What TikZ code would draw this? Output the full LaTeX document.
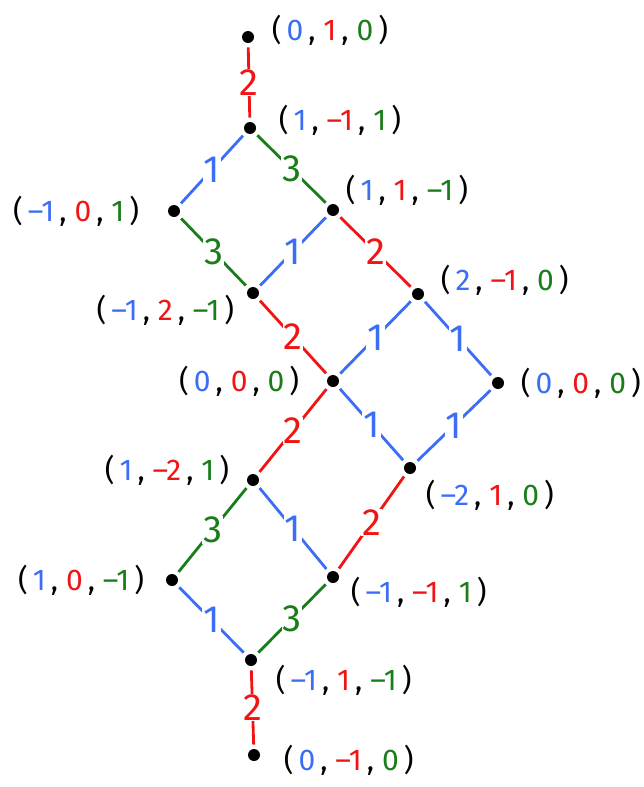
\documentclass[tikz,border=0pt]{standalone}
\usepackage{fontspec}
\setmainfont{Fira Sans}
\usetikzlibrary{positioning}
\definecolor{wtA}{RGB}{60,110,245}
\definecolor{wtB}{RGB}{240,20,20}
\definecolor{wtC}{RGB}{25,125,25}
\newcommand{\mn}{\textendash}
\newcommand{\wt}[3]{(\,\textcolor{wtA}{#1}\,,\ \textcolor{wtB}{#2}\,,\ \textcolor{wtC}{#3}\,)}

\begin{document}
\begin{tikzpicture}[
        x=0.5pt, y=-0.5pt,
        dot/.style={
            circle,
            fill=black,
            inner sep=0pt,
            minimum size=6pt
        },
        wt/.style={
            font=\fontsize{15}{18}\selectfont,
            inner sep=0pt
        },
        edge/.style={
            line width=1.4pt,
            shorten <=2pt,
            shorten >=2pt
        },
        e1/.style={edge, draw=wtA},
        e2/.style={edge, draw=wtB},
        e3/.style={edge, draw=wtC},
        lab/.style={
            font=\fontsize{19}{22}\selectfont,
            fill=white,
            inner sep=0.5pt
        }
    ]
        \useasboundingbox (0,0) rectangle (643,787);

        % weights
        \node[dot] (top)  at (248,37) {};
        \node[dot] (b)    at (250,128) {};
        \node[dot] (c)    at (174,211) {};
        \node[dot] (d)    at (333,210) {};
        \node[dot] (e)    at (253,293) {};
        \node[dot] (f)    at (418,294) {};
        \node[dot] (zero) at (333,381) {};
        \node[dot] (h)    at (498,383) {};
        \node[dot] (i)    at (253,480) {};
        \node[dot] (j)    at (410,468) {};
        \node[dot] (k)    at (172,580) {};
        \node[dot] (l)    at (333,577) {};
        \node[dot] (m)    at (251,660) {};
        \node[dot] (bot)  at (254,755) {};

        % labels
        \node[wt, right=8.5pt of top, yshift=3.5pt] (ltop) {\wt{0}{1}{0}};
        \node[wt, right=11pt of b, yshift=4pt] (lb) {\wt{1}{\mn1}{1}};
        \node[wt, left=14pt of c] (lc) {\wt{\mn1}{0}{1}};
        \node[wt, right=3pt of d, yshift=10pt] (ld) {\wt{1}{1}{\mn1}};
        \node[wt, left=6pt of e, yshift=-8.5pt] (le) {\wt{\mn1}{2}{\mn1}};
        \node[wt, right=8pt of f, yshift=7pt] (lf) {\wt{2}{\mn1}{0}};
        \node[wt, left=13.5pt of zero] (lzero) {\wt{0}{0}{0}};
        \node[wt, right=8pt of h] (lh) {\wt{0}{0}{0}};
        \node[wt, left=8.5pt of i, yshift=5pt] (li) {\wt{1}{\mn2}{1}};
        \node[wt, right=4.5pt of j, yshift=-13.5pt] (lj) {\wt{\mn2}{1}{0}};
        \node[wt, left=10.5pt of k] (lk) {\wt{1}{0}{\mn1}};
        \node[wt, right=5.5pt of l, yshift=-7.5pt] (ll) {\wt{\mn1}{\mn1}{1}};
        \node[wt, right=9pt of m, yshift=-10pt] (lm) {\wt{\mn1}{1}{\mn1}};
        \node[wt, right=11.5pt of bot, yshift=-2.5pt] (lbot) {\wt{0}{\mn1}{0}};

        % edges
        \draw[e2] (top) -- node[lab, text=wtB] {2} (b);
        \draw[e1] (b) -- node[lab, text=wtA] {1} (c);
        \draw[e3] (b) -- node[lab, text=wtC] {3} (d);
        \draw[e3] (c) -- node[lab, text=wtC] {3} (e);
        \draw[e1] (d) -- node[lab, text=wtA] {1} (e);
        \draw[e2] (d) -- node[lab, text=wtB] {2} (f);
        \draw[e2] (e) -- node[lab, text=wtB] {2} (zero);
        \draw[e1] (f) -- node[lab, text=wtA] {1} (zero);
        \draw[e1] (f) -- node[lab, text=wtA] {1} (h);
        \draw[e1] (zero) -- node[lab, text=wtA] {1} (j);
        \draw[e1] (h) -- node[lab, text=wtA] {1} (j);
        \draw[e2] (zero) -- node[lab, text=wtB] {2} (i);
        \draw[e2] (j) -- node[lab, text=wtB] {2} (l);
        \draw[e3] (i) -- node[lab, text=wtC] {3} (k);
        \draw[e1] (i) -- node[lab, text=wtA] {1} (l);
        \draw[e1] (k) -- node[lab, text=wtA] {1} (m);
        \draw[e3] (l) -- node[lab, text=wtC] {3} (m);
        \draw[e2] (m) -- node[lab, text=wtB] {2} (bot);
    \end{tikzpicture}
\end{document}
